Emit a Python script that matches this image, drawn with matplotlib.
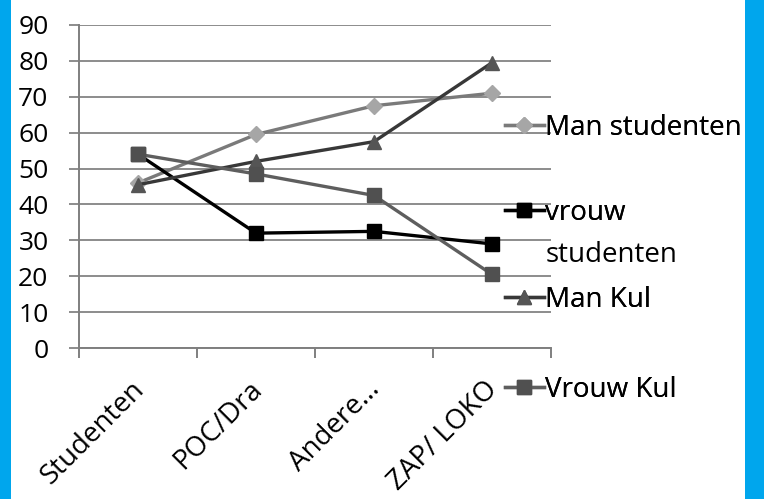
import matplotlib.pyplot as plt
from matplotlib.patches import Rectangle
from matplotlib.ticker import MultipleLocator, FixedLocator
from matplotlib.transforms import ScaledTranslation

plt.rcParams['font.family'] = ['Open Sans', 'DejaVu Sans']

# Datos
categorias = ["Studenten", "POC/Dra", "Andere...", "ZAP/ LOKO"]
man_studenten = [46, 59.5, 67.5, 71]
vrouw_studenten = [54, 32, 32.5, 29]
man_kul = [45.5, 52, 57.5, 79.5]
vrouw_kul = [54, 48.5, 42.5, 20.5]

series = [
    ("Man studenten", man_studenten, "#7a7a7a", "D", "#a6a6a6", 8),
    ("vrouw", vrouw_studenten, "#000000", "s", "#000000", 9.5),
    ("Man Kul", man_kul, "#383838", "^", "#555555", 9.5),
    ("Vrouw Kul", vrouw_kul, "#5e5e5e", "s", "#505050", 9.5),
]

fig = plt.figure(figsize=(7.64, 4.99), dpi=100)
fig.patch.set_facecolor("#00a6ed")
fig.patches.append(Rectangle((11 / 764, 0), (745 - 11) / 764, 1, transform=fig.transFigure,
                             facecolor="white", edgecolor="none", zorder=-10))

ax = fig.add_axes([79 / 764, 1 - 348 / 499, (551 - 79) / 764, (348 - 25) / 499])
ax.set_facecolor("white")

x = list(range(len(categorias)))
lineas = []
for nombre, valores, color, marca, color_marca, ms in series:
    l, = ax.plot(x, valores, color=color, lw=2.4, marker=marca, markersize=ms,
                 markerfacecolor=color_marca, markeredgecolor=color_marca, label=nombre,
                 zorder=3)
    lineas.append(l)

ax.set_xlim(-0.5, len(categorias) - 0.5)
ax.set_ylim(0, 90)
ax.yaxis.set_major_locator(MultipleLocator(10))
ax.grid(axis="y", color="#8c8c8c", lw=1.4)
ax.set_axisbelow(True)

for s in ["top", "right"]:
    ax.spines[s].set_visible(False)
ax.spines["left"].set_color("#7f7f7f")
ax.spines["bottom"].set_color("#7f7f7f")
ax.spines["left"].set_linewidth(1.4)
ax.spines["bottom"].set_linewidth(1.4)

ax.tick_params(axis="y", length=7, width=1.4, color="#8c8c8c", pad=15, labelsize=19)
ax.set_xticks(x)
ax.set_xticklabels(categorias, rotation=45, ha="right", rotation_mode="anchor", fontsize=20)
ax.tick_params(axis="x", which="major", length=0, pad=20)
ax.xaxis.set_minor_locator(FixedLocator([i - 0.5 for i in range(len(categorias) + 1)]))
ax.tick_params(axis="x", which="minor", length=7, width=1.4, color="#7f7f7f")
desplazamiento = ScaledTranslation(-8 / 100, 0, fig.dpi_scale_trans)
for etiqueta in ax.get_xticklabels():
    etiqueta.set_transform(etiqueta.get_transform() + desplazamiento)

# Leyenda, una entrada por serie
posiciones_y = [128, 213, 300, 390]
for linea, py in zip(lineas, posiciones_y):
    leg = fig.legend(handles=[linea], loc="center left",
                     bbox_to_anchor=(505 / 764, 1 - py / 499), frameon=False,
                     borderpad=0, borderaxespad=0, handlelength=1.4,
                     handletextpad=0.05, fontsize=20)
    fig.add_artist(leg)
fig.text(546 / 764, 1 - 255 / 499, "studenten", fontsize=20, va="center", ha="left")

fig.savefig("out.png", dpi=100, facecolor=fig.get_facecolor())
